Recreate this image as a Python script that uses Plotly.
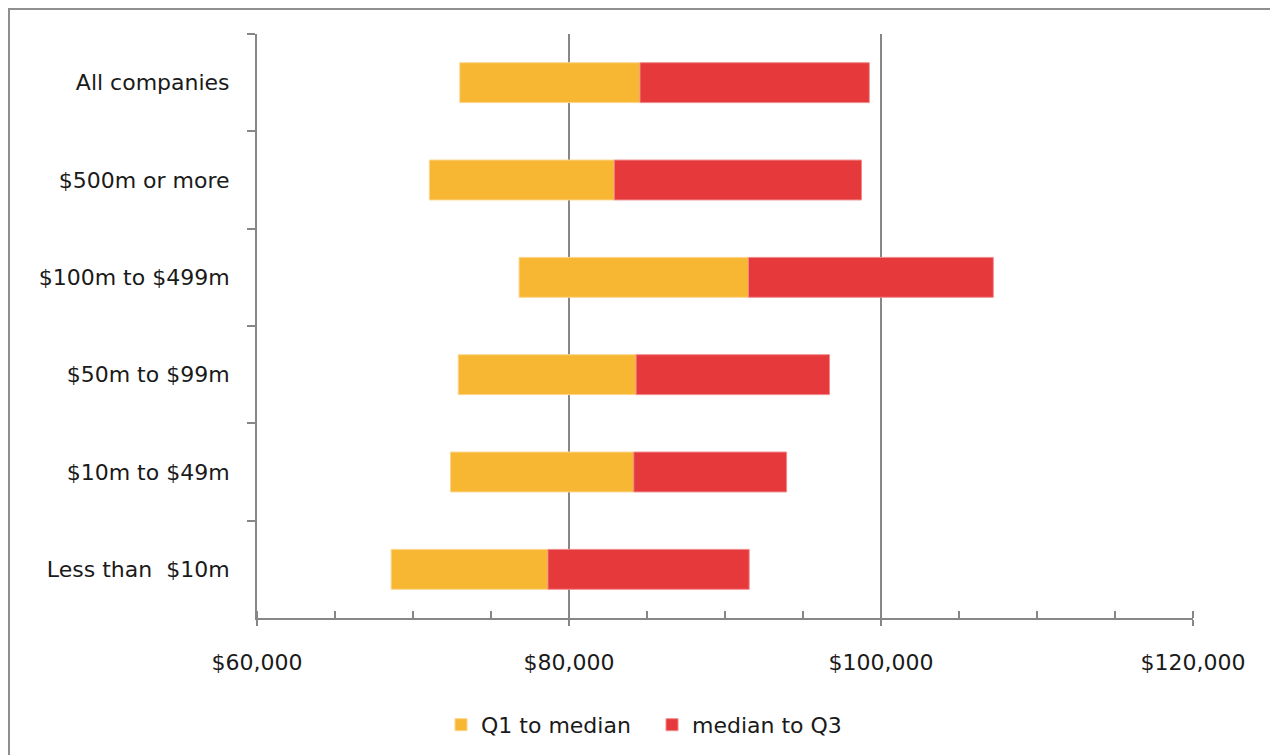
import plotly.graph_objects as go

categories = ["All companies", "$500m or more", "$100m to $499m", "$50m to $99m",
              "$10m to $49m", "Less than  $10m"]
q1 = [73000, 71050, 76800, 72900, 72400, 68600]
median = [84550, 82900, 91500, 84300, 84150, 78650]
q3 = [99250, 98750, 107200, 96700, 93950, 91550]

x_ticks = [60000, 80000, 100000, 120000]
x_labels = ["$60,000", "$80,000", "$100,000", "$120,000"]

ORANGE = "#F8B732"
RED = "#E5393B"
GRAY = "#878787"
FONT = "DejaVu Sans"

W, H = 1278, 755
L, T, PW, PH = 249, 26, 936, 584

fig = go.Figure()
fig.add_trace(go.Bar(
    y=categories, x=[m - a for a, m in zip(q1, median)], base=q1,
    orientation="h", name="Q1 to median",
    marker=dict(color=ORANGE, line=dict(color="#FBD58A", width=1)),
    width=0.41,
))
fig.add_trace(go.Bar(
    y=categories, x=[b - m for m, b in zip(median, q3)], base=median,
    orientation="h", name="median to Q3",
    marker=dict(color=RED, line=dict(color="#F08A8B", width=1)),
    width=0.41,
))

fig.update_layout(
    width=W, height=H,
    margin=dict(l=L, r=W - L - PW, t=T, b=H - T - PH),
    paper_bgcolor="white", plot_bgcolor="white",
    barmode="overlay",
    font=dict(family=FONT, size=22, color="#1a1a1a"),
    showlegend=True,
    legend=dict(orientation="h", x=0.1966, xanchor="left", y=-0.183, yanchor="middle",
                font=dict(size=22), itemwidth=30, traceorder="normal",
                entrywidth=166, entrywidthmode="pixels"),
    xaxis=dict(
        range=[60000, 120000], tickvals=x_ticks, ticktext=x_labels,
        showgrid=True, gridcolor=GRAY, gridwidth=1.5,
        showline=True, linecolor=GRAY, linewidth=2,
        ticks="outside", ticklen=6, tickcolor=GRAY, tickwidth=2,
        ticklabelstandoff=18, zeroline=False,
        minor=dict(dtick=5000, tick0=60000, ticks="inside", ticklen=7,
                   tickcolor=GRAY, tickwidth=1.5, showgrid=False),
    ),
    yaxis=dict(
        categoryorder="array", categoryarray=categories, autorange="reversed",
        showline=True, linecolor=GRAY, linewidth=2,
        ticks="outside", tickson="boundaries", ticklen=8, tickcolor=GRAY, tickwidth=1.5,
        ticklabelstandoff=21, showgrid=False, zeroline=False,
    ),
    shapes=[dict(type="rect", xref="paper", yref="paper",
                 x0=(1 - L) / PW, x1=(W + 5 - L) / PW,
                 y0=-0.5, y1=1 + (T - 1) / PH,
                 line=dict(color="#8f8f8f", width=2), fillcolor="rgba(0,0,0,0)",
                 layer="below")],
)

fig.write_html("out.html",
               post_script="document.documentElement.style.overflow='hidden';")
